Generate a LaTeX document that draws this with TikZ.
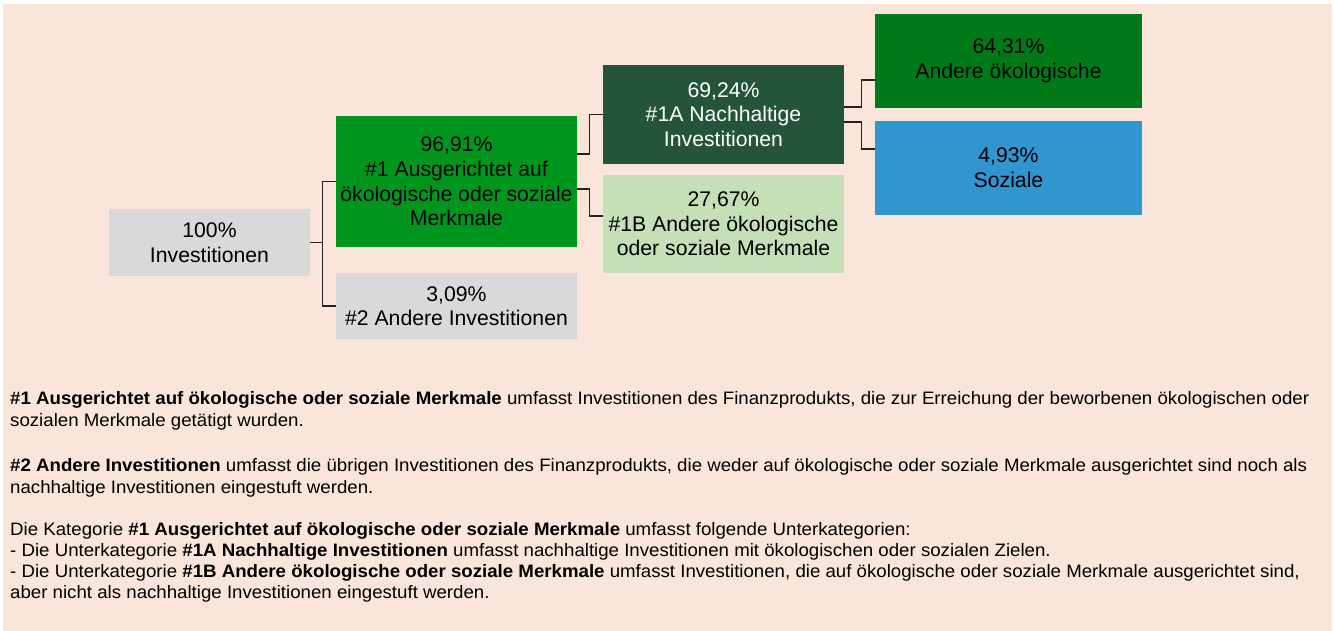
\documentclass[tikz,border=0pt]{standalone}
\usepackage{fontspec}
\setmainfont{Liberation Sans}
\usetikzlibrary{calc}
\definecolor{bgpeach}{HTML}{F9E5D9}
\definecolor{boxgray}{HTML}{D9D9D9}
\definecolor{green1}{HTML}{00961E}
\definecolor{green1a}{HTML}{24553A}
\definecolor{green1b}{HTML}{C5DFB6}
\definecolor{greenother}{HTML}{007A18}
\definecolor{bluesoc}{HTML}{3196D0}
\definecolor{connc}{HTML}{222222}
\newcommand{\wideline}[1]{\scalebox{1.037}[1]{#1}}
\begin{document}
\begin{tikzpicture}[x=1pt,y=-1pt,
  catbox/.style={inner sep=0pt, align=center, font=\fontsize{21.2}{24.6}\selectfont},
  conn/.style={draw=connc, line width=1.3pt},
  desc/.style={anchor=base west, inner sep=0pt, font=\fontsize{18}{21}\selectfont}]
\useasboundingbox (0,0) rectangle (1335,631);
\fill[white] (0,0) rectangle (1335,631);
\fill[bgpeach] (3,4) rectangle (1332,631);

\node[catbox, fill=boxgray, minimum width=201pt, minimum height=67pt] (root) at (209.5,242.5) {100\%\\Investitionen};
\node[catbox, fill=green1, minimum width=241pt, minimum height=131pt] (n1) at (456.5,181.5) {96,91\%\\\#1 Ausgerichtet auf\\ökologische oder soziale\\Merkmale};
\node[catbox, fill=boxgray, minimum width=241pt, minimum height=66pt] (n2) at (456.5,306) {3,09\%\\\#2 Andere Investitionen};
\node[catbox, fill=green1a, text=white, minimum width=241pt, minimum height=99pt] (n1a) at (723.5,114.5) {69,24\%\\\#1A Nachhaltige\\Investitionen};
\node[catbox, fill=green1b, minimum width=241pt, minimum height=98pt] (n1b) at (723.5,224) {27,67\%\\\#1B Andere ökologische\\oder soziale Merkmale};
\node[catbox, fill=greenother, minimum width=267pt, minimum height=94pt] (env) at (1008.5,61) {64,31\%\\Andere ökologische};
\node[catbox, fill=bluesoc, minimum width=267pt, minimum height=94pt] (soc) at (1008.5,168) {4,93\%\\Soziale};

\draw[conn] (root.east) -- ++(12,0) |- (n1.west);
\draw[conn] (root.east) -- ++(12,0) |- (n2.west);
\draw[conn] ($(n1.east)+(0,-27.5)$) -- ++(12,0) |- (n1a.west);
\draw[conn] ($(n1.east)+(0,7.5)$) -- ++(12,0) |- ($(n1b.west)+(0,-8)$);
\draw[conn] ($(n1a.east)+(0,-7.5)$) -- ++(17,0) |- ($(env.west)+(0,19)$);
\draw[conn] ($(n1a.east)+(0,7.5)$) -- ++(17,0) |- ($(soc.west)+(0,-19)$);

\node[desc] (t1) at (10,404) {\wideline{\textbf{\#1 Ausgerichtet auf ökologische oder soziale Merkmale} umfasst Investitionen des Finanzprodukts, die zur Erreichung der beworbenen ökologischen oder}};
\node[desc] (t2) at (10,426) {\wideline{sozialen Merkmale getätigt wurden.}};
\node[desc] (t3) at (10,471) {\wideline{\textbf{\#2 Andere Investitionen} umfasst die übrigen Investitionen des Finanzprodukts, die weder auf ökologische oder soziale Merkmale ausgerichtet sind noch als}};
\node[desc] (t4) at (10,493) {\wideline{nachhaltige Investitionen eingestuft werden.}};
\node[desc] (t5) at (10,535) {\wideline{Die Kategorie \textbf{\#1 Ausgerichtet auf ökologische oder soziale Merkmale} umfasst folgende Unterkategorien:}};
\node[desc] (t6) at (10,556) {\wideline{- Die Unterkategorie \textbf{\#1A Nachhaltige Investitionen} umfasst nachhaltige Investitionen mit ökologischen oder sozialen Zielen.}};
\node[desc] (t7) at (10,577) {\wideline{- Die Unterkategorie \textbf{\#1B Andere ökologische oder soziale Merkmale} umfasst Investitionen, die auf ökologische oder soziale Merkmale ausgerichtet sind,}};
\node[desc] (t8) at (10,598) {\wideline{aber nicht als nachhaltige Investitionen eingestuft werden.}};
\end{tikzpicture}
\end{document}
